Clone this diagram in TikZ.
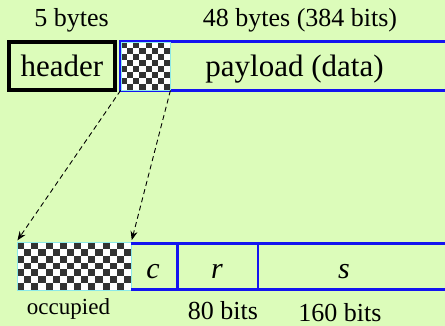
\documentclass[tikz,border=0pt]{standalone}
\usepackage{fontspec}
\setmainfont{Liberation Serif}
\usetikzlibrary{arrows.meta}
\definecolor{bg}{RGB}{220,252,186}
\definecolor{fieldblue}{RGB}{20,20,240}
\definecolor{sqdark}{RGB}{51,51,51}
\definecolor{rim}{RGB}{140,232,232}

% checkerboard: x0, y0, x1, y1, columns, rows
\newcommand\checkerfill[6]{%
  \fill[white] (#1,#2) rectangle (#3,#4);
  \pgfmathsetmacro\cellw{(#3-#1)/#5}%
  \pgfmathsetmacro\cellh{(#4-#2)/#6}%
  \foreach \i in {1,...,#5}{%
    \foreach \j in {1,...,#6}{%
      \pgfmathtruncatemacro\parity{mod(\i+\j,2)}%
      \ifnum\parity=0
        \fill[sqdark] ({#1+(\i-1)*\cellw},{#2+(\j-1)*\cellh}) rectangle ++(\cellw,\cellh);
      \fi
    }%
  }%
}

\begin{document}
\begin{tikzpicture}[x=1pt,y=-1pt,
  sizelabel/.style={anchor=base,font=\fontsize{26}{30}\selectfont},
  bigtext/.style={anchor=base,font=\fontsize{31}{36}\selectfont},
  fieldtext/.style={anchor=base,font=\fontsize{30}{34}\selectfont\itshape},
  smalltext/.style={anchor=base,font=\fontsize{23}{28}\selectfont},
  slot/.style={rectangle,inner sep=0pt,draw=rim,line width=0.8pt},
  bluerule/.style={draw=fieldblue,line width=2.9pt},
  copyarrow/.style={dashed,line width=0.9pt,dash pattern=on 5pt off 3.5pt,
    -{Stealth[length=9pt,width=7pt,inset=3pt]},shorten >=1.5pt}]
\fill[bg] (0,0) rectangle (445,326);
\useasboundingbox (0,0) rectangle (445,326);

% size labels above the cell
\node[sizelabel] (hsize) at (71.5,27) {5 bytes};
\node[sizelabel] (psize) at (300,27) {48 bytes (384 bits)};

% header field
\node[rectangle,draw=black,line width=3.2pt,minimum width=106pt,minimum height=48pt,
  inner sep=0pt,font=\fontsize{31}{36}\selectfont] (header) at (62,66) {header};

% payload field
\draw[bluerule] (445,41.7) -- (120,41.7) -- (120,90.3) -- (445,90.3);
\checkerfill{121}{42}{170}{90}{8}{8}
\node[slot,minimum width=49pt,minimum height=48pt] (occtop) at (145.5,66) {};
\node[bigtext] (payload) at (294.5,77) {payload (data)};

% expanded view of the payload
\checkerfill{17}{242}{131}{290}{16}{7}
\node[slot,minimum width=114pt,minimum height=48pt] (occbot) at (74,266) {};
\coordinate (rowend top) at (445,243.3);
\coordinate (rowend bot) at (445,289.3);
\draw[bluerule] (occbot.north east |- rowend top) -- (rowend top);
\draw[bluerule] (occbot.south east |- rowend bot) -- (rowend bot);
\coordinate (sepcr) at (177.5,243.3);
\coordinate (seprs) at (258,243.3);
\draw[bluerule] (sepcr) -- (sepcr |- rowend bot);
\draw[bluerule] (seprs) -- (seprs |- rowend bot);

\node[fieldtext] (fc) at (153,278) {c};
\node[fieldtext] (fr) at (217,278) {r};
\node[fieldtext] (fs) at (344,278) {s};

\node[smalltext] (occlabel) at (68.5,314) {occupied};
\node[sizelabel] (rsize) at (223,319.5) {80 bits};
\node[sizelabel] (ssize) at (340,321.5) {160 bits};

% mapping of the occupied part
\draw[copyarrow] (occtop.south west) -- (occbot.north west);
\draw[copyarrow] (occtop.south east) -- (occbot.north east);
\end{tikzpicture}
\end{document}
